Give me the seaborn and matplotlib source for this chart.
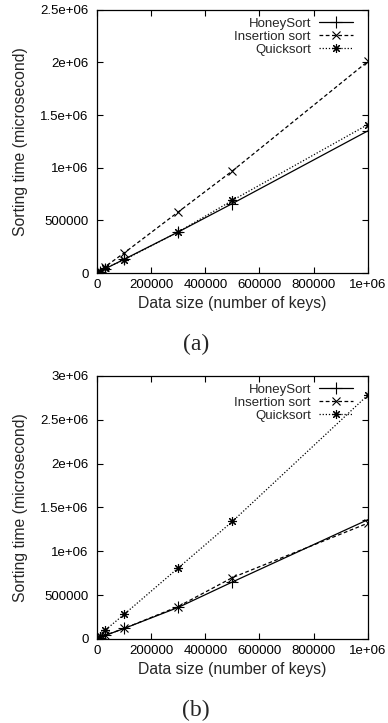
import matplotlib
matplotlib.use("Agg")
import matplotlib.pyplot as plt
import pandas as pd
import seaborn as sns
from matplotlib.ticker import FuncFormatter, MultipleLocator

# data size (number of keys)
SIZES = [1000, 10000, 30000, 100000, 300000, 500000, 1000000]

# (a) sorting time in microseconds
A_HONEY = [1300, 13000, 40000, 130000, 390000, 660000, 1350000]
A_INSERT = [2000, 20000, 60000, 190000, 580000, 970000, 2010000]
A_QUICK = [1400, 14000, 45000, 125000, 390000, 690000, 1410000]

# (b) sorting time in microseconds
B_HONEY = [1300, 13000, 40000, 120000, 360000, 650000, 1360000]
B_INSERT = [1300, 13000, 42000, 120000, 370000, 700000, 1320000]
B_QUICK = [3000, 30000, 100000, 280000, 810000, 1340000, 2780000]

SERIES = ["HoneySort", "Insertion sort", "Quicksort"]
STYLES = {
    "HoneySort": dict(linestyle="-", marker="+", markersize=8),
    "Insertion sort": dict(linestyle=(0, (3, 2)), marker="x", markersize=6),
    "Quicksort": dict(linestyle=(0, (1, 1.5)), marker=(8, 2, 0), markersize=6.5),
}

sns.set_style("ticks")
plt.rcParams["font.family"] = ["Liberation Sans", "DejaVu Sans"]

fig = plt.figure(figsize=(3.88, 7.23), dpi=100)
ax_a = fig.add_axes([0.25, 0.6224, 0.698, 0.364])
ax_b = fig.add_axes([0.25, 0.1162, 0.698, 0.364])

panels = [
    (ax_a, [A_HONEY, A_INSERT, A_QUICK], 2.5e6, "(a)", 0.523),
    (ax_b, [B_HONEY, B_INSERT, B_QUICK], 3e6, "(b)", 0.018),
]

gfmt = FuncFormatter(lambda v, p: "%g" % v)

for ax, values, ymax, tag, tag_y in panels:
    for name, vals in zip(SERIES, values):
        df = pd.DataFrame({"size": SIZES, "time": vals})
        sns.lineplot(data=df, x="size", y="time", ax=ax, color="black",
                     linewidth=0.9, markeredgewidth=0.8, markeredgecolor="black",
                     label=name, **STYLES[name])
    ax.set_xlim(0, 1e6)
    ax.set_ylim(0, ymax)
    ax.xaxis.set_major_locator(MultipleLocator(200000))
    ax.yaxis.set_major_locator(MultipleLocator(500000))
    ax.xaxis.set_major_formatter(gfmt)
    ax.yaxis.set_major_formatter(gfmt)
    ax.tick_params(direction="in", length=4, width=0.8, top=True, right=True,
                   labelsize=9.5, colors="black")
    ax.tick_params(axis="y", pad=6)
    ax.tick_params(axis="x", pad=4)
    for s in ax.spines.values():
        s.set_visible(True)
        s.set_linewidth(0.9)
        s.set_color("black")
    ax.set_xlabel("Data size (number of keys)", fontsize=11.3, labelpad=4)
    ax.set_ylabel("Sorting time (microsecond)", fontsize=11.3, labelpad=9)
    ax.legend(loc="upper right", bbox_to_anchor=(0.975, 1.0), frameon=False,
              markerfirst=False, fontsize=9.5, handlelength=2.6,
              handletextpad=0.6, labelspacing=0.05, borderaxespad=0.2)
    fig.text(0.505, tag_y, tag, ha="center", va="center",
             family="Liberation Serif", fontsize=17)

fig.savefig("out.png", dpi=100)
